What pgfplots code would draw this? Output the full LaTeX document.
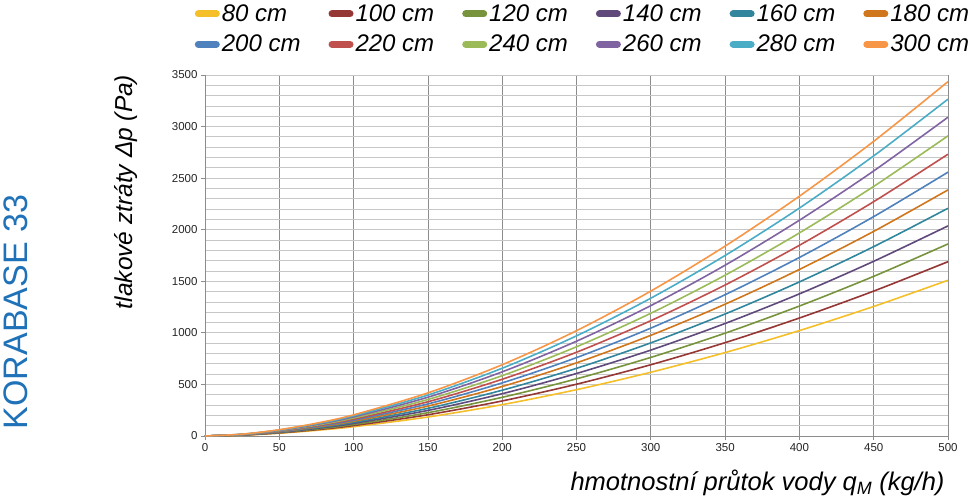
\documentclass[border=0pt]{standalone}
\usepackage{fontspec}
\setmainfont{Liberation Sans}
\usepackage{pgfplots}
\usepackage{pgfplotstable}
\pgfplotsset{compat=1.18}

\definecolor{c80}{HTML}{F5BF2A}
\definecolor{c100}{HTML}{953735}
\definecolor{c120}{HTML}{77933C}
\definecolor{c140}{HTML}{604A7B}
\definecolor{c160}{HTML}{31859C}
\definecolor{c180}{HTML}{D0761C}
\definecolor{c200}{HTML}{4F81BD}
\definecolor{c220}{HTML}{C0504D}
\definecolor{c240}{HTML}{9BBB59}
\definecolor{c260}{HTML}{8064A2}
\definecolor{c280}{HTML}{4BACC6}
\definecolor{c300}{HTML}{F79646}
\definecolor{korablue}{HTML}{1F72B8}

% pressure loss (Pa) vs. mass flow (kg/h), one column per length
\pgfplotstableread{
q   a80  a100 a120 a140 a160 a180 a200 a220 a240 a260 a280 a300
0   0    0    0    0    0    0    0    0    0    0    0    0
25  8    9    10   11   12   13   14   14   15   16   17   18
50  27   30   33   36   39   42   45   49   52   55   58   61
75  55   61   67   74   80   86   92   99   105  112  118  124
100 90   101  111  122  132  143  153  163  174  185  195  205
150 184  206  226  248  268  290  311  332  354  376  397  418
200 304  340  375  410  444  480  515  550  585  622  657  691
250 449  502  554  606  656  709  760  812  865  919  971  1021
300 618  691  762  833  903  976  1046 1118 1190 1264 1336 1405
350 809  905  997  1091 1183 1278 1370 1464 1559 1656 1750 1841
400 1022 1144 1260 1378 1494 1615 1731 1849 1969 2092 2210 2325
450 1256 1405 1548 1694 1836 1984 2127 2272 2420 2570 2716 2857
500 1510 1690 1862 2037 2208 2386 2558 2732 2910 3091 3266 3436
}\losses

\begin{document}
\begin{tikzpicture}
\path[use as bounding box] (-205pt,-62pt) rectangle (774pt,436pt);
\begin{axis}[
    at={(0,0)}, anchor=south west,
    scale only axis,
    width=743pt, height=361pt,
    xmin=0, xmax=500, ymin=0, ymax=3500,
    xtick={0,50,...,500},
    ytick={0,500,...,3500},
    minor y tick num=4,
    xmajorgrids, ymajorgrids, yminorgrids,
    major x grid style={color=black!45, line width=0.8pt},
    major y grid style={color=black!22, line width=0.8pt},
    minor y grid style={color=black!22, line width=0.8pt},
    axis x line*=bottom, axis y line*=left,
    axis line style={color=black!45, line width=0.8pt},
    tick align=outside,
    major tick length=4pt, minor tick length=0pt,
    tick style={color=black!45, line width=0.8pt},
    /pgf/number format/assume math mode=true,
    /pgf/number format/set thousands separator={},
    ticklabel style={font=\fontsize{11.5}{14}\selectfont, color=black!85},
    xlabel={hmotnostní průtok vody q\textsubscript{M} (kg/h)},
    xlabel style={font=\itshape\fontsize{25.5}{30}\selectfont, at={(axis description cs:1,-0.13)}, anchor=east},
    ylabel={tlakové ztráty Δp (Pa)},
    ylabel style={font=\itshape\fontsize{24.5}{28}\selectfont, at={(axis description cs:-0.106,0.676)}, anchor=center},
    legend columns=6,
    legend cell align=left,
    legend style={draw=none, fill=none,
        at={(axis description cs:-0.018,1.206)}, anchor=north west,
        font=\itshape\fontsize{24}{28}\selectfont,
        /tikz/row sep=8pt,
        /tikz/every even column/.append style={column sep=26pt}},
    legend image code/.code={\draw[#1, line width=7pt, line cap=round] (0pt,0pt) -- (18pt,0pt);},
    every axis plot/.append style={line width=1.6pt, smooth},
]
\addplot[c80]  table[x=q, y=a80]  {\losses}; \addlegendentry{80 cm}
\addplot[c100] table[x=q, y=a100] {\losses}; \addlegendentry{100 cm}
\addplot[c120] table[x=q, y=a120] {\losses}; \addlegendentry{120 cm}
\addplot[c140] table[x=q, y=a140] {\losses}; \addlegendentry{140 cm}
\addplot[c160] table[x=q, y=a160] {\losses}; \addlegendentry{160 cm}
\addplot[c180] table[x=q, y=a180] {\losses}; \addlegendentry{180 cm}
\addplot[c200] table[x=q, y=a200] {\losses}; \addlegendentry{200 cm}
\addplot[c220] table[x=q, y=a220] {\losses}; \addlegendentry{220 cm}
\addplot[c240] table[x=q, y=a240] {\losses}; \addlegendentry{240 cm}
\addplot[c260] table[x=q, y=a260] {\losses}; \addlegendentry{260 cm}
\addplot[c280] table[x=q, y=a280] {\losses}; \addlegendentry{280 cm}
\addplot[c300] table[x=q, y=a300] {\losses}; \addlegendentry{300 cm}
\end{axis}
\node[rotate=90, color=korablue, font=\fontsize{34}{40}\selectfont] at (-189pt,124pt) {KORABASE 33};
\end{tikzpicture}
\end{document}
